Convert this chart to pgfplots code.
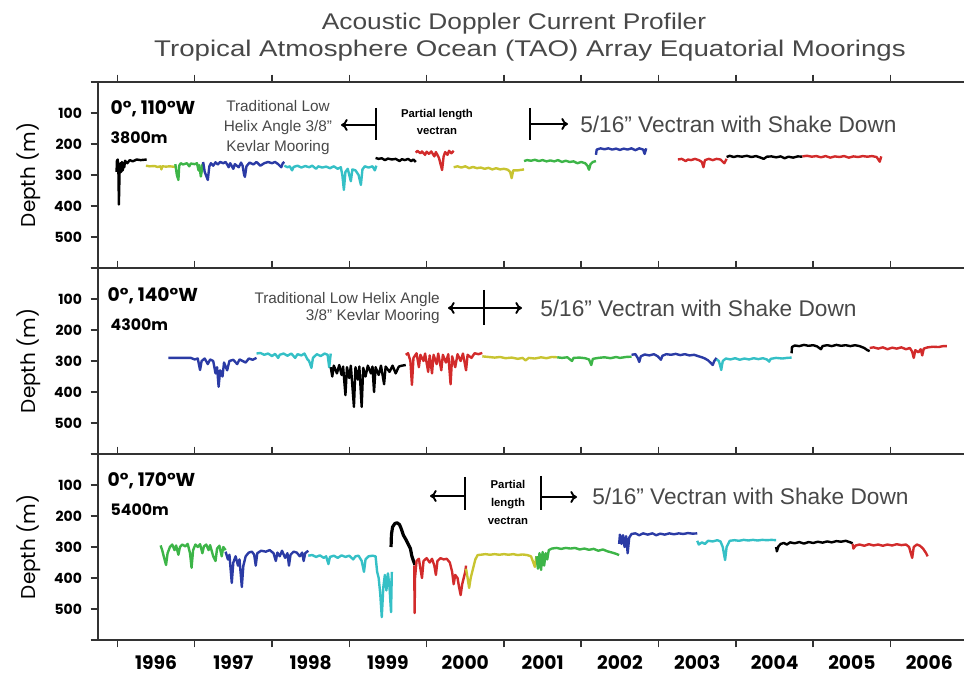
\documentclass[border=0pt]{standalone}
\usepackage{fontspec}
\setmainfont{Liberation Sans}
\newfontfamily\geo{Poppins}
\usepackage{pgfplots}
\pgfplotsset{compat=1.18}
\usetikzlibrary{arrows.meta}

\definecolor{cyel}{HTML}{C8C431}
\definecolor{cgreen}{HTML}{3DB548}
\definecolor{cblue}{HTML}{2B3BA5}
\definecolor{ccyan}{HTML}{35C0C6}
\definecolor{cred}{HTML}{D22B2B}
\definecolor{axgray}{HTML}{333333}
\definecolor{txtgray}{HTML}{484848}

\pgfplotsset{
  panel/.style={
    scale only axis, width=649.5pt, height=139.5pt,
    xmin=1995.75, xmax=2006.95, ymin=0, ymax=600, y dir=reverse,
    axis y line*=left,
    axis line style={draw=axgray, line width=1.4pt},
    xtick={1996,...,2006}, xticklabels={}, minor x tick num=3,
    ytick={0,100,...,600}, yticklabels={,100,200,300,400,500,},
    tick align=outside,
    major tick length=5.5pt, minor tick length=3pt,
    tick style={draw=axgray, line width=1.1pt},
    yticklabel style={font=\geo\bfseries\fontsize{10.5}{12}\selectfont, text=black, xshift=-3pt},
    ylabel={Depth (m)},
    ylabel style={font=\geo\fontsize{15}{17}\selectfont, at={(axis description cs:-0.08,0.5)}, anchor=center},
    every axis plot/.append style={no marks, line width=1.8pt, line join=round},
  },
}

\begin{document}
\begin{tikzpicture}
\path[use as bounding box] (0,0) rectangle (723pt,506.25pt);

% ---- 0, 110W
\begin{axis}[panel, at={(73.5pt,305.25pt)}, anchor=south west, xtick pos=right]
\addplot[black] coordinates {(1995.99,290)(1995.995,255)(1996.005,250)(1996.015,300)(1996.02,395)(1996.03,280)(1996.04,262)(1996.05,290)(1996.06,258)(1996.07,285)(1996.08,262)(1996.09,275)(1996.1,254)(1996.13,262)(1996.16,252)(1996.2,256)(1996.25,250)(1996.3,252)(1996.38,250)};
\addplot[cyel] coordinates {(1996.37,270)(1996.42,272)(1996.48,271)(1996.52,274)(1996.56,272)(1996.57,282)(1996.58,272)(1996.63,273)(1996.68,272)(1996.75,274)};
\addplot[cgreen] coordinates {(1996.75,265)(1996.77,300)(1996.79,316)(1996.8,270)(1996.82,262)(1996.85,266)(1996.9,262)(1996.93,272)(1996.95,263)(1997.0,265)(1997.03,262)(1997.05,285)(1997.06,268)(1997.08,305)(1997.09,290)(1997.1,268)(1997.11,262)};
\addplot[cblue] coordinates {(1997.11,258)(1997.13,290)(1997.17,316)(1997.19,272)(1997.21,262)(1997.24,270)(1997.27,259)(1997.3,266)(1997.33,258)(1997.37,262)(1997.4,258)(1997.43,270)(1997.44,275)(1997.46,262)(1997.5,280)(1997.52,265)(1997.57,275)(1997.6,260)(1997.62,270)(1997.64,300)(1997.65,306)(1997.67,272)(1997.71,260)(1997.76,266)(1997.8,258)(1997.85,270)(1997.9,262)(1997.95,258)(1998.0,262)(1998.04,258)(1998.08,265)(1998.12,275)(1998.14,262)(1998.16,258)};
\addplot[ccyan] coordinates {(1998.16,270)(1998.2,275)(1998.23,272)(1998.26,285)(1998.28,274)(1998.33,270)(1998.38,276)(1998.43,271)(1998.48,275)(1998.52,270)(1998.57,280)(1998.6,272)(1998.65,276)(1998.7,273)(1998.75,278)(1998.8,272)(1998.85,280)(1998.89,275)(1998.91,300)(1998.93,348)(1998.95,290)(1998.98,280)(1999.02,320)(1999.04,282)(1999.08,285)(1999.12,300)(1999.15,332)(1999.17,282)(1999.2,272)(1999.25,276)(1999.3,272)(1999.33,285)(1999.35,270)};
\addplot[black] coordinates {(1999.34,245)(1999.38,248)(1999.42,246)(1999.46,252)(1999.5,247)(1999.55,250)(1999.6,248)(1999.65,255)(1999.68,249)(1999.72,252)(1999.76,248)(1999.8,255)(1999.83,250)(1999.86,258)};
\addplot[cred] coordinates {(1999.86,228)(1999.88,222)(1999.92,230)(1999.94,224)(1999.98,235)(2000.0,225)(2000.03,232)(2000.06,224)(2000.1,240)(2000.12,226)(2000.16,245)(2000.2,284)(2000.22,240)(2000.24,226)(2000.27,235)(2000.29,222)(2000.32,230)(2000.35,222)};
\addplot[cyel] coordinates {(2000.35,275)(2000.4,272)(2000.45,276)(2000.5,272)(2000.55,278)(2000.6,274)(2000.65,278)(2000.7,276)(2000.75,280)(2000.8,277)(2000.85,282)(2000.9,278)(2000.95,282)(2001.0,280)(2001.05,283)(2001.08,290)(2001.1,310)(2001.12,285)(2001.18,285)(2001.26,282)};
\addplot[cgreen] coordinates {(2001.26,255)(2001.3,252)(2001.35,254)(2001.4,251)(2001.45,255)(2001.5,252)(2001.55,256)(2001.6,253)(2001.65,256)(2001.7,252)(2001.75,258)(2001.8,254)(2001.85,258)(2001.9,256)(2001.95,262)(2002.0,258)(2002.05,262)(2002.08,270)(2002.1,283)(2002.12,265)(2002.15,258)(2002.19,255)};
\addplot[cblue] coordinates {(2002.19,235)(2002.2,218)(2002.25,214)(2002.3,217)(2002.35,214)(2002.4,218)(2002.45,215)(2002.5,219)(2002.55,215)(2002.6,218)(2002.65,214)(2002.7,220)(2002.75,214)(2002.8,218)(2002.82,232)(2002.84,214)};
\addplot[cred] coordinates {(2003.25,250)(2003.3,248)(2003.35,255)(2003.38,250)(2003.42,252)(2003.47,248)(2003.52,252)(2003.56,258)(2003.58,275)(2003.6,252)(2003.65,248)(2003.7,252)(2003.75,248)(2003.8,250)(2003.85,262)(2003.88,248)};
\addplot[black] coordinates {(2003.88,242)(2003.92,238)(2003.97,242)(2004.02,239)(2004.08,241)(2004.14,238)(2004.2,242)(2004.26,239)(2004.32,244)(2004.36,248)(2004.4,241)(2004.46,240)(2004.52,243)(2004.58,240)(2004.63,246)(2004.68,241)(2004.74,244)(2004.8,240)(2004.86,241)};
\addplot[cred] coordinates {(2004.86,240)(2004.92,238)(2004.98,241)(2005.04,239)(2005.1,243)(2005.16,239)(2005.22,244)(2005.28,240)(2005.34,242)(2005.4,239)(2005.46,244)(2005.52,240)(2005.58,242)(2005.64,239)(2005.7,241)(2005.76,239)(2005.82,242)(2005.86,257)(2005.88,240)};
\end{axis}

% ---- 0, 140W
\begin{axis}[panel, at={(73.5pt,165.75pt)}, anchor=south west, xtick pos=right]
\addplot[cblue] coordinates {(1996.66,290)(1996.8,290)(1996.95,290)(1997.0,295)(1997.04,292)(1997.07,329)(1997.09,300)(1997.13,292)(1997.17,310)(1997.2,295)(1997.24,300)(1997.27,340)(1997.29,320)(1997.31,383)(1997.33,330)(1997.36,350)(1997.38,305)(1997.42,330)(1997.45,300)(1997.5,296)(1997.55,310)(1997.58,295)(1997.62,300)(1997.66,305)(1997.7,292)(1997.75,296)(1997.8,290)};
\addplot[ccyan] coordinates {(1997.8,276)(1997.85,274)(1997.9,280)(1997.95,276)(1998.0,284)(1998.04,277)(1998.08,290)(1998.1,280)(1998.15,276)(1998.2,283)(1998.25,276)(1998.3,290)(1998.33,278)(1998.38,282)(1998.42,276)(1998.46,295)(1998.48,300)(1998.51,322)(1998.53,290)(1998.58,278)(1998.63,284)(1998.68,276)(1998.72,280)(1998.74,320)(1998.76,276)};
\addplot[black] coordinates {(1998.76,320)(1998.78,350)(1998.8,315)(1998.84,340)(1998.87,313)(1998.9,345)(1998.92,318)(1998.95,410)(1998.97,320)(1999.0,355)(1999.02,315)(1999.06,448)(1999.08,320)(1999.11,360)(1999.13,318)(1999.16,448)(1999.18,322)(1999.21,350)(1999.24,315)(1999.28,340)(1999.3,318)(1999.32,400)(1999.34,320)(1999.38,345)(1999.41,315)(1999.45,375)(1999.47,318)(1999.52,335)(1999.56,315)(1999.6,340)(1999.64,318)(1999.68,315)(1999.73,313)};
\addplot[cred] coordinates {(1999.73,280)(1999.76,275)(1999.79,300)(1999.81,377)(1999.83,290)(1999.87,275)(1999.9,320)(1999.92,280)(1999.96,300)(1999.98,276)(2000.02,335)(2000.04,282)(2000.07,340)(2000.09,280)(2000.13,310)(2000.15,276)(2000.19,330)(2000.21,280)(2000.25,305)(2000.28,278)(2000.31,375)(2000.33,285)(2000.37,320)(2000.4,278)(2000.44,300)(2000.47,276)(2000.51,330)(2000.53,280)(2000.58,290)(2000.62,275)(2000.67,278)(2000.72,274)};
\addplot[cyel] coordinates {(2000.72,285)(2000.8,287)(2000.88,289)(2000.95,287)(2001.02,291)(2001.1,289)(2001.18,293)(2001.24,290)(2001.28,298)(2001.32,290)(2001.4,292)(2001.48,288)(2001.55,291)(2001.62,287)(2001.69,288)};
\addplot[cgreen] coordinates {(2001.69,288)(2001.75,290)(2001.82,288)(2001.88,300)(2001.9,290)(2001.98,289)(2002.05,291)(2002.1,295)(2002.13,313)(2002.15,293)(2002.22,290)(2002.3,288)(2002.38,291)(2002.45,287)(2002.5,290)(2002.58,287)(2002.65,286)};
\addplot[cblue] coordinates {(2002.65,280)(2002.7,278)(2002.73,290)(2002.75,303)(2002.77,285)(2002.82,279)(2002.88,282)(2002.94,278)(2002.99,285)(2003.03,296)(2003.05,283)(2003.1,278)(2003.16,280)(2003.22,277)(2003.28,281)(2003.34,278)(2003.4,282)(2003.46,280)(2003.52,285)(2003.56,288)(2003.6,292)(2003.64,298)(2003.67,305)(2003.7,313)(2003.72,300)(2003.75,290)};
\addplot[ccyan] coordinates {(2003.75,295)(2003.78,300)(2003.8,318)(2003.81,329)(2003.83,300)(2003.87,292)(2003.93,295)(2003.99,291)(2004.05,296)(2004.11,292)(2004.17,295)(2004.23,291)(2004.29,294)(2004.35,291)(2004.4,295)(2004.43,302)(2004.45,293)(2004.52,290)(2004.6,292)(2004.66,290)(2004.72,289)};
\addplot[black] coordinates {(2004.72,275)(2004.725,255)(2004.76,250)(2004.82,252)(2004.88,248)(2004.94,251)(2005.0,249)(2005.05,253)(2005.1,262)(2005.12,252)(2005.18,249)(2005.24,252)(2005.3,248)(2005.36,251)(2005.42,249)(2005.48,252)(2005.54,249)(2005.6,252)(2005.66,258)(2005.7,265)(2005.73,268)};
\addplot[cred] coordinates {(2005.73,258)(2005.78,256)(2005.84,260)(2005.9,256)(2005.96,262)(2006.02,257)(2006.08,260)(2006.14,256)(2006.2,262)(2006.25,258)(2006.28,270)(2006.3,290)(2006.32,265)(2006.36,272)(2006.39,262)(2006.41,282)(2006.43,260)(2006.48,256)(2006.55,254)(2006.62,255)(2006.68,252)(2006.73,252)};
\end{axis}

% ---- 0, 170W
\begin{axis}[panel, at={(73.5pt,26.25pt)}, anchor=south west, xtick pos=both,
  extra x ticks={1996.5,1997.5,1998.5,1999.5,2000.5,2001.5,2002.5,2003.5,2004.5,2005.5,2006.5},
  extra x tick labels={1996,1997,1998,1999,2000,2001,2002,2003,2004,2005,2006},
  extra x tick style={major tick length=0pt, xticklabel style={font=\geo\bfseries\fontsize{14}{16}\selectfont, text=black, yshift=-8pt}}]
\addplot[cgreen] coordinates {(1996.56,295)(1996.58,310)(1996.6,330)(1996.63,358)(1996.65,320)(1996.68,300)(1996.71,292)(1996.74,310)(1996.76,295)(1996.79,325)(1996.81,300)(1996.84,292)(1996.88,298)(1996.91,290)(1996.94,320)(1996.96,367)(1996.98,310)(1997.01,292)(1997.04,300)(1997.07,291)(1997.1,320)(1997.12,298)(1997.15,292)(1997.18,310)(1997.2,294)(1997.24,330)(1997.27,345)(1997.29,305)(1997.32,296)(1997.35,330)(1997.37,300)(1997.4,310)};
\addplot[cblue] coordinates {(1997.4,315)(1997.43,340)(1997.45,325)(1997.48,416)(1997.5,350)(1997.53,330)(1997.56,360)(1997.58,340)(1997.61,429)(1997.63,360)(1997.66,330)(1997.7,318)(1997.74,315)(1997.77,325)(1997.79,360)(1997.81,320)(1997.86,312)(1997.92,315)(1997.97,310)(1998.02,320)(1998.05,345)(1998.07,318)(1998.1,330)(1998.13,312)(1998.17,335)(1998.2,320)(1998.22,360)(1998.24,325)(1998.28,315)(1998.32,318)(1998.36,330)(1998.39,318)(1998.41,345)(1998.43,320)(1998.47,312)};
\addplot[ccyan] coordinates {(1998.47,328)(1998.52,326)(1998.57,332)(1998.62,327)(1998.67,335)(1998.7,330)(1998.73,355)(1998.75,332)(1998.8,328)(1998.85,335)(1998.9,327)(1998.95,332)(1999.0,328)(1999.05,340)(1999.08,330)(1999.12,328)(1999.16,345)(1999.19,380)(1999.21,340)(1999.25,330)(1999.3,328)(1999.34,330)(1999.36,380)(1999.38,400)(1999.4,450)(1999.42,526)(1999.44,430)(1999.46,390)(1999.48,440)(1999.5,385)(1999.52,430)(1999.54,510)(1999.55,380)};
\addplot[black, line width=2.4pt] coordinates {(1999.54,300)(1999.545,260)(1999.56,235)(1999.59,224)(1999.62,222)(1999.65,228)(1999.67,240)(1999.7,262)(1999.73,275)(1999.76,290)(1999.79,305)(1999.81,330)(1999.83,345)(1999.85,358)};
\addplot[cred] coordinates {(1999.84,360)(1999.845,513)(1999.85,400)(1999.87,345)(1999.9,338)(1999.92,370)(1999.94,400)(1999.96,345)(2000.0,336)(2000.04,350)(2000.07,338)(2000.1,360)(2000.12,390)(2000.14,345)(2000.18,336)(2000.22,340)(2000.26,338)(2000.3,350)(2000.33,380)(2000.35,420)(2000.37,390)(2000.4,400)(2000.42,430)(2000.44,455)(2000.46,420)(2000.48,400)(2000.5,380)(2000.51,360)};
\addplot[cyel] coordinates {(2000.51,370)(2000.53,400)(2000.55,432)(2000.57,400)(2000.6,370)(2000.63,340)(2000.66,326)(2000.7,325)(2000.76,323)(2000.82,325)(2000.88,323)(2000.94,325)(2001.0,323)(2001.06,325)(2001.12,323)(2001.18,326)(2001.24,324)(2001.3,326)(2001.35,330)(2001.38,350)(2001.4,364)(2001.42,330)};
\addplot[cgreen] coordinates {(2001.42,330)(2001.44,370)(2001.46,320)(2001.48,374)(2001.5,316)(2001.52,360)(2001.54,320)(2001.56,340)(2001.58,310)(2001.62,305)(2001.68,303)(2001.74,306)(2001.8,303)(2001.86,305)(2001.92,303)(2001.98,308)(2002.04,305)(2002.1,309)(2002.16,306)(2002.22,312)(2002.28,308)(2002.34,314)(2002.4,318)(2002.45,322)(2002.49,326)};
\addplot[cblue] coordinates {(2002.49,290)(2002.5,260)(2002.52,290)(2002.54,262)(2002.56,300)(2002.58,265)(2002.6,320)(2002.62,270)(2002.65,258)(2002.7,256)(2002.75,262)(2002.8,256)(2002.86,260)(2002.92,256)(2002.97,262)(2003.02,257)(2003.08,260)(2003.14,256)(2003.2,259)(2003.26,256)(2003.32,258)(2003.38,255)(2003.44,257)(2003.5,256)};
\addplot[ccyan] coordinates {(2003.5,280)(2003.52,292)(2003.56,285)(2003.6,290)(2003.64,280)(2003.7,282)(2003.76,278)(2003.8,282)(2003.83,300)(2003.86,342)(2003.88,300)(2003.92,280)(2003.98,278)(2004.04,280)(2004.1,277)(2004.16,279)(2004.22,277)(2004.28,279)(2004.34,277)(2004.4,278)(2004.46,277)(2004.52,278)};
\addplot[black] coordinates {(2004.52,300)(2004.53,314)(2004.55,298)(2004.58,290)(2004.62,287)(2004.66,292)(2004.7,285)(2004.76,288)(2004.82,284)(2004.88,289)(2004.94,284)(2005.0,287)(2005.06,283)(2005.12,286)(2005.18,282)(2005.24,285)(2005.3,281)(2005.36,283)(2005.42,280)(2005.48,285)(2005.51,288)};
\addplot[cred] coordinates {(2005.51,290)(2005.52,305)(2005.55,295)(2005.6,292)(2005.66,296)(2005.72,291)(2005.78,295)(2005.84,292)(2005.9,296)(2005.96,292)(2006.02,295)(2006.08,291)(2006.14,294)(2006.2,292)(2006.24,300)(2006.26,318)(2006.28,335)(2006.3,300)(2006.34,292)(2006.38,296)(2006.42,305)(2006.46,320)(2006.48,330)};
\end{axis}

% ---- titles and notes, in pixels of the reference (y down)
\begin{scope}[x=0.75pt, y=-0.75pt, shift={(0pt,506.25pt)}]
\node[anchor=base, text=txtgray, font=\fontsize{17}{20}\selectfont, xscale=1.16] at (514,30) {Acoustic Doppler Current Profiler};
\node[anchor=base, text=txtgray, font=\fontsize{17}{20}\selectfont, xscale=1.22] at (530,57) {Tropical Atmosphere Ocean (TAO) Array Equatorial Moorings};

\node[anchor=base west, font=\geo\bfseries\fontsize{14}{16}\selectfont] at (106,115) {0°, 110°W};
\node[anchor=base west, font=\geo\bfseries\fontsize{11.8}{14}\selectfont] at (106,144) {3800m};
\node[anchor=base west, font=\geo\bfseries\fontsize{14}{16}\selectfont] at (103,302) {0°, 140°W};
\node[anchor=base west, font=\geo\bfseries\fontsize{11.8}{14}\selectfont] at (106,331) {4300m};
\node[anchor=base west, font=\geo\bfseries\fontsize{14}{16}\selectfont] at (103,487) {0°, 170°W};
\node[anchor=base west, font=\geo\bfseries\fontsize{11.8}{14}\selectfont] at (106,516) {5400m};

% panel 1 notes
\node[align=center, text=txtgray, font=\fontsize{11.5}{15}\selectfont] at (278,128) {Traditional Low\\Helix Angle 3/8”\\Kevlar Mooring};
\draw[line width=1.8pt] (376,108) -- (376,140);
\draw[line width=1.4pt, -{To[length=5pt,width=9pt]}] (376,125) -- (341,125);
\node[align=center, font=\bfseries\fontsize{8.5}{12.75}\selectfont] at (437,121.5) {Partial length\\vectran};
\draw[line width=1.8pt] (530,108) -- (530,140);
\draw[line width=1.4pt, -{To[length=5pt,width=9pt]}] (530,124) -- (568,124);
\node[anchor=west, text=txtgray, font=\fontsize{17}{20}\selectfont, inner sep=0pt] at (580,124) {5/16” Vectran with Shake Down};

% panel 2 notes
\node[align=right, anchor=east, text=txtgray, font=\fontsize{11.5}{12.75}\selectfont, inner sep=0pt] at (440,308.5) {Traditional Low Helix Angle\\3/8” Kevlar Mooring};
\draw[line width=1.8pt] (484,290) -- (484,325);
\draw[line width=1.4pt, -{To[length=5pt,width=9pt]}] (484,308) -- (448,308);
\draw[line width=1.4pt, -{To[length=5pt,width=9pt]}] (484,308) -- (522,308);
\node[anchor=west, text=txtgray, font=\fontsize{17}{20}\selectfont, inner sep=0pt] at (540,308) {5/16” Vectran with Shake Down};

% panel 3 notes
\draw[line width=1.8pt] (465,477) -- (465,510);
\draw[line width=1.4pt, -{To[length=5pt,width=9pt]}] (465,496) -- (430,496);
\node[align=center, font=\bfseries\fontsize{8.5}{13.5}\selectfont] at (508,502) {Partial\\length\\vectran};
\draw[line width=1.8pt] (541,476) -- (541,510);
\draw[line width=1.4pt, -{To[length=5pt,width=9pt]}] (541,497) -- (577,497);
\node[anchor=west, text=txtgray, font=\fontsize{17}{20}\selectfont, inner sep=0pt] at (592,496) {5/16” Vectran with Shake Down};
\end{scope}
\end{tikzpicture}
\end{document}
